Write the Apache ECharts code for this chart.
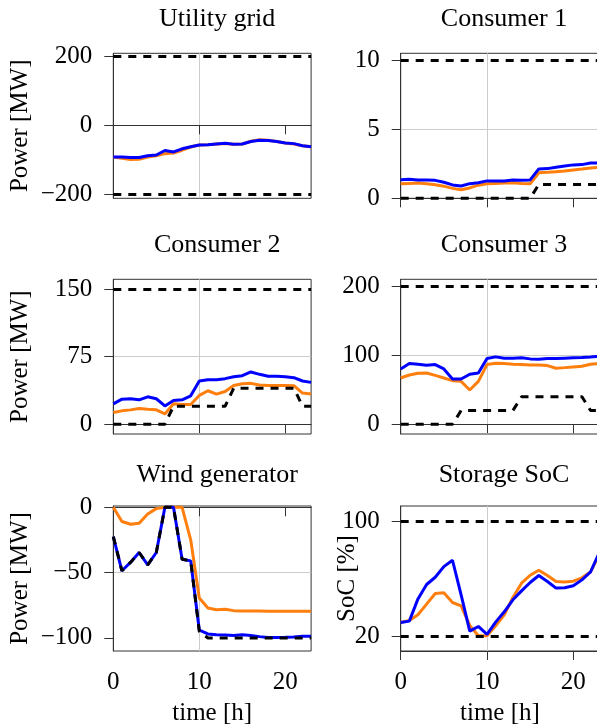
<!DOCTYPE html>
<html><head><meta charset="utf-8">
<script src="https://cdn.jsdelivr.net/npm/echarts@6/dist/echarts.min.js"></script>
<style>html,body{margin:0;padding:0;overflow:hidden;background:#fff}#c{width:610px;height:727px}</style>
</head><body><div id="c"></div>
<script>
// ---- data ----
const hours = [0,1,2,3,4,5,6,7,8,9,10,11,12,13,14,15,16,17,18,19,20,21,22,23];

const utilBlue   = [-92,-92,-93,-93,-88,-86,-73,-77,-68,-62,-57,-56,-54,-52,-55,-54,-47,-43,-44,-47,-51,-53,-59,-62];
const utilOrange = [-92,-95,-99,-98,-92,-88,-82,-80,-72,-63,-57,-56,-54,-53,-55,-54,-46,-42,-43,-47,-51,-54,-59,-62];
const utilLimits = [-200, 200];

const c1Blue   = [1.35,1.38,1.33,1.33,1.3,1.16,0.97,0.89,1.06,1.13,1.26,1.26,1.26,1.33,1.3,1.33,2.13,2.15,2.25,2.34,2.42,2.44,2.56,2.56];
const c1Orange = [1.05,1.08,1.1,1.05,0.98,0.88,0.72,0.62,0.75,0.95,1.05,1.08,1.1,1.12,1.08,1.05,1.85,1.88,1.93,1.98,2.05,2.12,2.2,2.25];
const c1Min    = [0,0,0,0,0,0,0,0,0,0,0,0,0,0,0,0,1,1,1,1,1,1,1,1];
const c1Limits = [10];

const c2Blue   = [22.7,27.9,28.3,27.1,30.5,28.3,20.4,26.4,27.1,31.6,48,49.4,49.4,50.6,52.8,53.9,58,55.4,53.2,53.2,52.8,51.7,48,46.5];
const c2Orange = [13,14.9,16,17.5,16.7,16,11.5,22.7,21.9,21.9,32,37.2,33.5,36.4,43.1,45,45.4,43.5,43.1,43.1,43.1,42.8,34.6,33.5];
const c2Min    = [0,0,0,0,0,0,0,20,20,20,20,20,20,20,40,40,40,40,40,40,40,40,20,20];
const c2Limits = [150];

const c3Blue   = [80.5,88.3,87.3,85.9,86.8,80.5,65.9,65.9,72.7,74.6,95.6,98,96.1,96.1,96.6,95.1,94.6,95.6,95.6,96.1,96.6,97.1,98,99];
const c3Orange = [67.3,71.7,74.1,74.6,71.2,67.3,63.4,62.4,49.8,62.4,86.8,88.8,88.3,87.3,86.8,86.3,86.3,85.4,81.5,82.4,83.4,84.4,87.3,88.3];
const c3Min    = [0,0,0,0,0,0,0,20,20,20,20,20,20,20,40,40,40,40,40,40,40,40,20,20];
const c3Limits = [200];

const windBlue   = [-22.4,-48.6,-42.2,-34.6,-44,-34.6,0,0,-39.7,-41,-94.1,-96.9,-97.5,-97.7,-98.2,-97.5,-98.2,-99,-99.7,-99.7,-99.5,-99.2,-98.7,-98.7];
const windOrange = [0,-10.9,-13,-12.2,-5.1,-1,0,0,0,-24.9,-69.5,-77.1,-78.4,-78.1,-79.1,-79.3,-79.3,-79.4,-79.5,-79.5,-79.5,-79.5,-79.5,-79.6];
const windAvail  = [-22.4,-48.6,-42.2,-34.6,-44,-34.6,0,0,-39.7,-41,-95,-100,-100,-100,-100,-100,-100,-100,-100,-100,-100,-100,-100,-100];

const socBlue   = [29.7,30.6,46,56,61,68.4,72.8,48.8,23.7,26.9,21.4,29.9,37.1,45.4,51.6,57.4,62.2,58.1,53.5,53.7,55.1,59.2,64.7,78];
const socOrange = [29.7,31.1,35,42.4,49.8,50.2,43.5,41.2,27.6,20.5,20.5,27.4,35,47,56.9,62.4,65.9,62.2,58.1,57.8,58.3,60.6,64.7,76.5];
const socLimits = [20, 100];

const titles = ['Utility grid','Consumer 1','Consumer 2','Consumer 3','Wind generator','Storage SoC'];
const yTicks = [[-200,0,200],[0,5,10],[0,75,150],[0,100,200],[-100,-50,0],[20,100]];
const xTicks = [0,10,20];

// ---- layout ----
const FONT = '"Liberation Serif","DejaVu Serif",serif';
const FS = 25, FST = 26;
const colL = {left:113.3, width:197.8, c:212.2};
const colR = {left:400.7, width:198.5, c:499};
const rows = [{top:53.3,height:145,t:1},{top:279.3,height:154.7,t:227},{top:506,height:145.3,t:457}];
const yRanges = [[-211,208],[0,10.5],[-10.75,160.75],[-14.1,210.8],[-110,1],[9.9,110.4]];
const yNames = ['Power [MW]','','Power [MW]','','Power [MW]','SoC [%]'];
const yNameGaps = [80,0,80,0,80,41];

const BLUE='#0000ff', ORANGE='#ff7f0e', BLACK='#000';
const fmt = v => v<0 ? '\u2212'+Math.abs(v) : String(v);
const pts = arr => hours.map((h,i)=>[h,arr[i]]);

const grids=[], xAxes=[], yAxes=[], titleArr=[], series=[];
for(let i=0;i<6;i++){
  const col = i%2===0?colL:colR, row = rows[Math.floor(i/2)];
  const bottom = i>=4;
  grids.push({left:col.left, top:row.top, width:col.width, height:row.height, show:true, borderColor:'#333', borderWidth:1, backgroundColor:'transparent', containLabel:false});
  titleArr.push({text:titles[i], left:col.c, top:row.t, textAlign:'center', textStyle:{fontFamily:FONT, fontSize:FST, fontWeight:'normal', color:'#000'}});
  xAxes.push({gridIndex:i, type:'value', min:0, max:23,
    axisLine:{show:true, lineStyle:{color:'#333', width:1}},
    axisTick:{show:true, inside:false, length:9, customValues:xTicks, lineStyle:{color:'#333', width:1}},
    axisLabel:{show:bottom, customValues:xTicks, margin:19, fontFamily:FONT, fontSize:FS, color:'#000', formatter:fmt},
    splitLine:{show:true, showMinLine:false, showMaxLine:false, lineStyle:{color:'#cccccc', width:1}},
    name: bottom?'time [h]':'', nameLocation:'middle', nameGap:50, nameMoveOverlap:false,
    nameTextStyle:{fontFamily:FONT, fontSize:FS, color:'#000'}});
  yAxes.push({gridIndex:i, type:'value', min:yRanges[i][0], max:yRanges[i][1],
    axisLine:{show:true, lineStyle:{color:'#333', width:1}},
    axisTick:{show:true, inside:false, length:9, customValues:yTicks[i], lineStyle:{color:'#333', width:1}},
    axisLabel:{show:true, customValues:yTicks[i], margin:21, fontFamily:FONT, fontSize:FS, color:'#000', formatter:fmt},
    splitLine:{show:true, showMinLine:false, showMaxLine:false, lineStyle:{color:'#cccccc', width:1}},
    name:yNames[i], nameLocation:'middle', nameGap:yNameGaps[i], nameMoveOverlap:false,
    nameTextStyle:{fontFamily:FONT, fontSize:FS, color:'#000'}});
}

const lineS = (i, arr, color, dashed) => ({type:'line', xAxisIndex:i, yAxisIndex:i, data:pts(arr),
  showSymbol:false, symbol:'none', clip:false, silent:true, animation:false,
  lineStyle:{color, width:3, type:dashed?[8,7]:'solid'}});
const limitS = (i, vals) => ({type:'line', xAxisIndex:i, yAxisIndex:i, data:[], silent:true, animation:false,
  markLine:{silent:true, symbol:'none', label:{show:false}, animation:false,
    lineStyle:{color:BLACK, width:3, type:[8,7]}, data:vals.map(v=>({yAxis:v}))}});

series.push(lineS(0, utilOrange, ORANGE), lineS(0, utilBlue, BLUE), limitS(0, utilLimits));
series.push(lineS(1, c1Orange, ORANGE), lineS(1, c1Blue, BLUE), lineS(1, c1Min, BLACK, true), limitS(1, c1Limits));
series.push(lineS(2, c2Orange, ORANGE), lineS(2, c2Blue, BLUE), lineS(2, c2Min, BLACK, true), limitS(2, c2Limits));
series.push(lineS(3, c3Orange, ORANGE), lineS(3, c3Blue, BLUE), lineS(3, c3Min, BLACK, true), limitS(3, c3Limits));
series.push(lineS(4, windOrange, ORANGE), lineS(4, windBlue, BLUE), lineS(4, windAvail, BLACK, true));
series.push(lineS(5, socOrange, ORANGE), lineS(5, socBlue, BLUE), limitS(5, socLimits));

const chart = echarts.init(document.getElementById('c'));
chart.setOption({animation:false, backgroundColor:'#fff', title:titleArr, grid:grids, xAxis:xAxes, yAxis:yAxes, series});
</script></body></html>
